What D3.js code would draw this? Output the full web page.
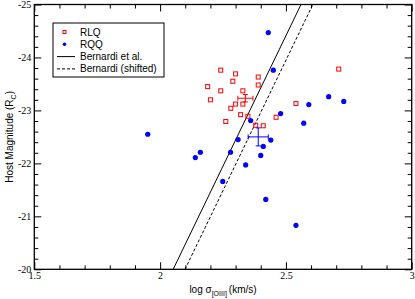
<!DOCTYPE html>
<html>
<head>
<meta charset="utf-8">
<script src="https://cdn.jsdelivr.net/npm/d3@7"></script>
<style>
  body { margin: 0; background: #fff; }
  svg { display: block; }
  .tick text { font-family: "Liberation Serif", "Times New Roman", serif; font-size: 10px; fill: #000; }
  .domain { display: none; }
  .tick line { stroke: #000; }
  .lab { font-family: "Liberation Sans", Arial, sans-serif; font-size: 10px; fill: #000; }
</style>
</head>
<body>
<svg id="chart" width="415" height="299"></svg>
<script>
'use strict';

// RLQ hosts: log sigma[OIII], host magnitude
var rlqSigma = [2.241, 2.300, 2.289, 2.390, 2.390, 2.189, 2.241, 2.329, 2.200, 2.300,
                2.329, 2.281, 2.320, 2.349, 2.261, 2.380, 2.410, 2.461, 2.540, 2.710];
var rlqMag = [-23.76, -23.69, -23.55, -23.63, -23.48, -23.45, -23.37, -23.37, -23.20, -23.12,
              -23.12, -23.04, -22.92, -22.89, -22.79, -22.72, -22.71, -22.87, -23.13, -23.78];

// RQQ hosts
var rqqSigma = [1.951, 2.140, 2.160, 2.249, 2.280, 2.310, 2.340, 2.360, 2.400, 2.410,
                2.420, 2.430, 2.440, 2.450, 2.479, 2.540, 2.571, 2.591, 2.670, 2.730];
var rqqMag = [-22.55, -22.11, -22.21, -21.66, -22.21, -22.45, -21.97, -22.81, -22.15, -22.32,
              -21.32, -24.47, -22.44, -23.76, -22.94, -20.83, -22.76, -23.11, -23.26, -23.17];

// mean values with errors: [x, y, xerr, yerr]
var rlqMean = [2.339, -23.23, 0.030, 0.07];
var rqqMean = [2.390, -22.50, 0.040, 0.17];

// relation lines: [x at -20, x at -25]
var lineMags = [-20, -25];
var bernardiSigma = [2.052, 2.560];
var shiftedSigma = [2.099, 2.607];

var xMajor = [1.5, 2, 2.5, 3];
var yMajor = [-25, -24, -23, -22, -21, -20];

(function () {
  var svg = d3.select('#chart'),
      pL = 34.3, pR = 411.7, pT = 4.5, pB = 269.3;

  var x = d3.scaleLinear().domain([1.5, 3]).range([pL, pR]),
      y = d3.scaleLinear().domain([-25, -20]).range([pT, pB]);

  var xMinor = d3.range(15, 31).map(function (d) { return d / 10; }).filter(function (d) { return xMajor.indexOf(d) < 0; }),
      yMinor = d3.range(-125, -99).map(function (d) { return d / 5; }).filter(function (d) { return yMajor.indexOf(d) < 0; });

  function fmt(d) { return String(d); }

  // axes: ticks point inward on all four sides
  svg.append('g').attr('transform', 'translate(0,' + pB + ')')
    .call(d3.axisBottom(x).tickValues(xMajor).tickFormat(fmt).tickSize(-7).tickPadding(3));
  svg.append('g').attr('transform', 'translate(0,' + pB + ')')
    .call(d3.axisBottom(x).tickValues(xMinor).tickFormat('').tickSize(-4));
  svg.append('g').attr('transform', 'translate(0,' + pT + ')')
    .call(d3.axisTop(x).tickValues(xMajor).tickFormat('').tickSize(-7));
  svg.append('g').attr('transform', 'translate(0,' + pT + ')')
    .call(d3.axisTop(x).tickValues(xMinor).tickFormat('').tickSize(-4));

  svg.append('g').attr('transform', 'translate(' + pL + ',0)')
    .call(d3.axisLeft(y).tickValues(yMajor).tickFormat(fmt).tickSize(-7).tickPadding(3));
  svg.append('g').attr('transform', 'translate(' + pL + ',0)')
    .call(d3.axisLeft(y).tickValues(yMinor).tickFormat('').tickSize(-4));
  svg.append('g').attr('transform', 'translate(' + pR + ',0)')
    .call(d3.axisRight(y).tickValues(yMajor).tickFormat('').tickSize(-7));
  svg.append('g').attr('transform', 'translate(' + pR + ',0)')
    .call(d3.axisRight(y).tickValues(yMinor).tickFormat('').tickSize(-4));

  svg.append('rect')
    .attr('x', pL).attr('y', pT)
    .attr('width', pR - pL).attr('height', pB - pT)
    .attr('fill', 'none').attr('stroke', '#000').attr('stroke-width', 1.3);

  // relation lines, clipped to the frame
  svg.append('clipPath').attr('id', 'clip').append('rect')
    .attr('x', pL).attr('y', pT).attr('width', pR - pL).attr('height', pB - pT);

  var plot = svg.append('g').attr('clip-path', 'url(#clip)');
  var line = d3.line().x(function (d) { return x(d[0]); }).y(function (d) { return y(d[1]); });

  plot.append('path')
    .attr('d', line(d3.zip(bernardiSigma, lineMags)))
    .attr('fill', 'none').attr('stroke', '#000').attr('stroke-width', 1);
  plot.append('path')
    .attr('d', line(d3.zip(shiftedSigma, lineMags)))
    .attr('fill', 'none').attr('stroke', '#000').attr('stroke-width', 1).attr('stroke-dasharray', '3,2');

  // points
  plot.selectAll('rect.rlq').data(d3.zip(rlqSigma, rlqMag)).enter().append('rect')
    .attr('class', 'rlq')
    .attr('x', function (d) { return x(d[0]) - 2; })
    .attr('y', function (d) { return y(d[1]) - 2; })
    .attr('width', 4).attr('height', 4)
    .attr('fill', 'none').attr('stroke', '#f00').attr('stroke-width', 1);

  plot.selectAll('circle.rqq').data(d3.zip(rqqSigma, rqqMag)).enter().append('circle')
    .attr('class', 'rqq')
    .attr('cx', function (d) { return x(d[0]); })
    .attr('cy', function (d) { return y(d[1]); })
    .attr('r', 2.6)
    .attr('fill', '#00f');

  // error crosses for the means
  function errorCross(m, color) {
    var g = plot.append('g').attr('stroke', color).attr('stroke-width', 1),
        cx = x(m[0]), cy = y(m[1]),
        x0 = x(m[0] - m[2]), x1 = x(m[0] + m[2]),
        y0 = y(m[1] - m[3]), y1 = y(m[1] + m[3]);
    g.append('line').attr('x1', x0).attr('x2', x1).attr('y1', cy).attr('y2', cy);
    g.append('line').attr('x1', cx).attr('x2', cx).attr('y1', y0).attr('y2', y1);
    g.append('line').attr('x1', x0).attr('x2', x0).attr('y1', cy - 2.5).attr('y2', cy + 2.5);
    g.append('line').attr('x1', x1).attr('x2', x1).attr('y1', cy - 2.5).attr('y2', cy + 2.5);
    g.append('line').attr('x1', cx - 2.5).attr('x2', cx + 2.5).attr('y1', y0).attr('y2', y0);
    g.append('line').attr('x1', cx - 2.5).attr('x2', cx + 2.5).attr('y1', y1).attr('y2', y1);
  }
  errorCross(rlqMean, '#f00');
  errorCross(rqqMean, '#00f');

  // legend
  var lg = svg.append('g').attr('transform', 'translate(53,23)');
  lg.append('rect').attr('width', 111).attr('height', 54)
    .attr('fill', '#fff').attr('stroke', '#000').attr('stroke-width', 1);
  var items = ['RLQ', 'RQQ', 'Bernardi et al.', 'Bernardi (shifted)'];
  items.forEach(function (t, i) {
    var yy = 9 + i * 12.3;
    lg.append('text').attr('class', 'lab').attr('x', 27).attr('y', yy + 3.5).text(t);
    if (i === 0) {
      lg.append('rect').attr('x', 10).attr('y', yy - 1.5).attr('width', 3).attr('height', 3)
        .attr('fill', 'none').attr('stroke', '#f00').attr('stroke-width', 1);
    } else if (i === 1) {
      lg.append('circle').attr('cx', 11.5).attr('cy', yy).attr('r', 1.8).attr('fill', '#00f');
    } else {
      lg.append('line').attr('x1', 4).attr('x2', 22).attr('y1', yy).attr('y2', yy)
        .attr('stroke', '#000').attr('stroke-width', 1)
        .attr('stroke-dasharray', i === 3 ? '3,2' : null);
    }
  });

  // axis titles
  var xt = svg.append('text').attr('class', 'lab').attr('x', (pL + pR) / 2).attr('y', 293)
    .attr('text-anchor', 'middle');
  xt.append('tspan').text('log \u03c3');
  xt.append('tspan').attr('baseline-shift', '-3').attr('font-size', '7px').text('[OIII]');
  xt.append('tspan').attr('dx', 2).text('(km/s)');

  var yt = svg.append('text').attr('class', 'lab')
    .attr('transform', 'translate(13,' + ((pT + pB) / 2) + ') rotate(-90)')
    .attr('text-anchor', 'middle');
  yt.append('tspan').text('Host Magnitude (R');
  yt.append('tspan').attr('baseline-shift', '-3').attr('font-size', '7px').text('C');
  yt.append('tspan').text(')');
})();
</script>
</body>
</html>
